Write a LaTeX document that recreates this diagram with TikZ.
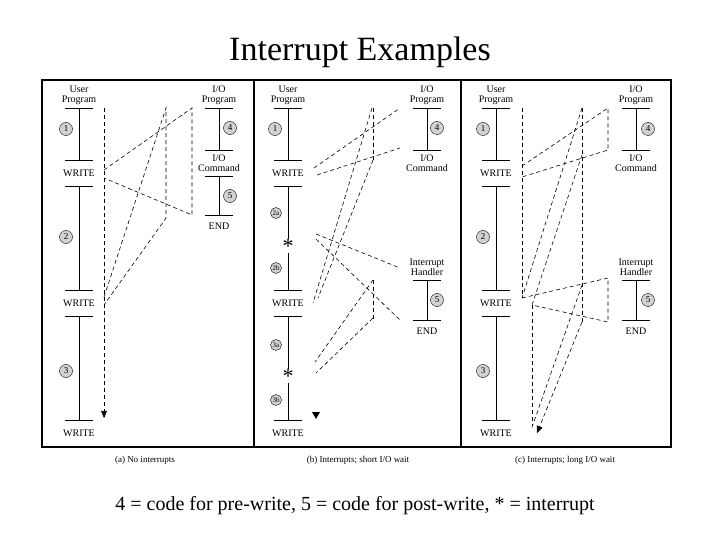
\documentclass[tikz,border=0pt]{standalone}
\usepackage{fontspec}
\setmainfont{Liberation Serif}
\usetikzlibrary{arrows, calc, positioning}

\tikzset{
  lbl/.style={font=\fontsize{10}{10}\selectfont, align=center, inner sep=0pt},
  num/.style={circle, draw, fill=gray!35, minimum size=13pt, inner sep=0pt, font=\fontsize{9}{9}\selectfont},
  tick/.style={line width=0.8pt},
  flow/.style={dashed, line width=0.6pt, dash pattern=on 4pt off 3pt},
  frame/.style={line width=1.6pt}
}
% horizontal bar of a program line
\newcommand{\progbar}[2]{\draw[tick] (#1-14,#2) -- (#1+14,#2);}

\begin{document}
\begin{tikzpicture}[x=1pt, y=-1pt, >=triangle 45]
		\useasboundingbox (0,0) rectangle (720,540);
		\node (title) at (360,52) {\fontsize{34}{40}\selectfont Interrupt Examples};
		\draw[frame] (42,80) rectangle (671,447);
		\draw[frame] (254,80) -- (254,447); \draw[frame] (461,80) -- (461,447);
		\node[lbl, font=\fontsize{9}{9}\selectfont] (capa) at (145,460) {(a) No interrupts};
		\node[lbl, font=\fontsize{9}{9}\selectfont] (capb) at (358,460) {(b) Interrupts; short I/O wait};
		\node[lbl, font=\fontsize{9}{9}\selectfont] (capc) at (565,460) {(c) Interrupts; long I/O wait};
		\node (legend) at (355,506) {\fontsize{20}{24}\selectfont 4 = code for pre-write, 5 = code for post-write, * = interrupt};

		% (a) no interrupts
		\node[lbl] (ua) at (79,95) {User\\Program};
		\draw[tick] (79,108) -- (79,160); \progbar{79}{108} \progbar{79}{160}
		\node[lbl] (wa1) at (79,173) {WRITE};
		\draw[tick] (79,186) -- (79,290); \progbar{79}{186} \progbar{79}{290}
		\node[lbl] (wa2) at (79,303) {WRITE};
		\draw[tick] (79,316) -- (79,420); \progbar{79}{316} \progbar{79}{420}
		\node[lbl] (wa3) at (79,433) {WRITE};
		\node[num] (a1) at (66,129) {1}; \node[num] (a2) at (66,237) {2}; \node[num] (a3) at (66,371) {3};
		\node[lbl] (ioa) at (219,95) {I/O\\Program};
		\draw[tick] (219,108) -- (219,150); \progbar{219}{108} \progbar{219}{150}
		\node[lbl] (cmda) at (219,163) {I/O\\Command};
		\draw[tick] (219,176) -- (219,215); \progbar{219}{176} \progbar{219}{215}
		\node[lbl] (enda) at (219,226) {END};
		\node[num] (a4) at (230,128) {4}; \node[num] (a5) at (230,196) {5};
		\draw[flow, ->] (104,108) -- (104,418);
		\draw[flow] (104,170) -- (192,108) -- (192,215) -- (104,178);
		\draw[flow] (104,297) -- (166,108) -- (166,218) -- (104,305);

		% (b) short I/O wait
		\node[lbl] (ub) at (288,95) {User\\Program};
		\draw[tick] (288,108) -- (288,160); \progbar{288}{108} \progbar{288}{160}
		\node[lbl] (wb1) at (288,173) {WRITE};
		\draw[tick] (288,186) -- (288,290); \progbar{288}{186} \progbar{288}{290}
		\node[lbl] (wb2) at (288,303) {WRITE};
		\draw[tick] (288,316) -- (288,420); \progbar{288}{316} \progbar{288}{420}
		\node[lbl] (wb3) at (288,433) {WRITE};
		\node[num] (b1) at (275,129) {1};
		\node[num, minimum size=11pt, font=\fontsize{7}{7}\selectfont] (b2a) at (276,213) {2a};
		\node[num, minimum size=11pt, font=\fontsize{7}{7}\selectfont] (b2b) at (276,268) {2b};
		\node[num, minimum size=11pt, font=\fontsize{7}{7}\selectfont] (b3a) at (276,345) {3a};
		\node[num, minimum size=11pt, font=\fontsize{7}{7}\selectfont] (b3b) at (276,400) {3b};
		\node[fill=white, inner sep=0pt, font=\fontsize{22}{22}\selectfont] (sb1) at (288,246) {*};
		\node[fill=white, inner sep=0pt, font=\fontsize{22}{22}\selectfont] (sb2) at (288,376) {*};
		\node[lbl] (iob) at (427,95) {I/O\\Program};
		\draw[tick] (427,108) -- (427,150); \progbar{427}{108} \progbar{427}{150}
		\node[lbl] (cmdb) at (427,163) {I/O\\Command};
		\node[num] (b4) at (437,128) {4};
		\node[lbl] (ihb) at (427,267) {Interrupt\\Handler};
		\draw[tick] (427,280) -- (427,320); \progbar{427}{280} \progbar{427}{320}
		\node[lbl] (endb) at (427,331) {END};
		\node[num] (b5) at (437,300) {5};
		\draw[flow] (314,168) -- (400,108); \draw[flow] (317,175) -- (400,148);
		\draw[flow] (373,108) -- (373,160);
		\draw[flow] (372,108) -- (313,303); \draw[flow] (373,160) -- (318,298);
		\draw[flow] (316,234) -- (400,268); \draw[flow] (316,239) -- (400,320);
		\draw[flow] (373,280) -- (373,322);
		\draw[flow] (373,280) -- (315,362); \draw[flow] (373,318) -- (316,373);
		\fill (312,412) -- (320,412) -- (316,419) -- cycle;

		% (c) long I/O wait
		\node[lbl] (uc) at (496,95) {User\\Program};
		\draw[tick] (496,108) -- (496,160); \progbar{496}{108} \progbar{496}{160}
		\node[lbl] (wc1) at (496,173) {WRITE};
		\draw[tick] (496,186) -- (496,290); \progbar{496}{186} \progbar{496}{290}
		\node[lbl] (wc2) at (496,303) {WRITE};
		\draw[tick] (496,316) -- (496,420); \progbar{496}{316} \progbar{496}{420}
		\node[lbl] (wc3) at (496,433) {WRITE};
		\node[num] (c1) at (483,129) {1}; \node[num] (c2) at (483,237) {2}; \node[num] (c3) at (483,371) {3};
		\node[lbl] (ioc) at (636,95) {I/O\\Program};
		\draw[tick] (636,108) -- (636,150); \progbar{636}{108} \progbar{636}{150}
		\node[lbl] (cmdc) at (636,163) {I/O\\Command};
		\node[num] (c4) at (648,129) {4};
		\node[lbl] (ihc) at (636,267) {Interrupt\\Handler};
		\draw[tick] (636,280) -- (636,320); \progbar{636}{280} \progbar{636}{320}
		\node[lbl] (endc) at (636,331) {END};
		\node[num] (c5) at (648,300) {5};
		\draw[flow] (522,108) -- (522,298);
		\draw[flow] (522,166) -- (608,108) -- (608,150) -- (522,177);
		\draw[flow] (582,108) -- (582,322);
		\draw[flow] (582,108) -- (522,298); \draw[flow] (582,155) -- (532,305);
		\draw[flow] (522,298) -- (608,278) -- (608,322) -- (532,305);
		\draw[flow] (532,305) -- (532,425);
		\draw[flow] (582,285) -- (531,430); \draw[flow, ->] (582,322) -- (537,433);
\end{tikzpicture}
\end{document}
